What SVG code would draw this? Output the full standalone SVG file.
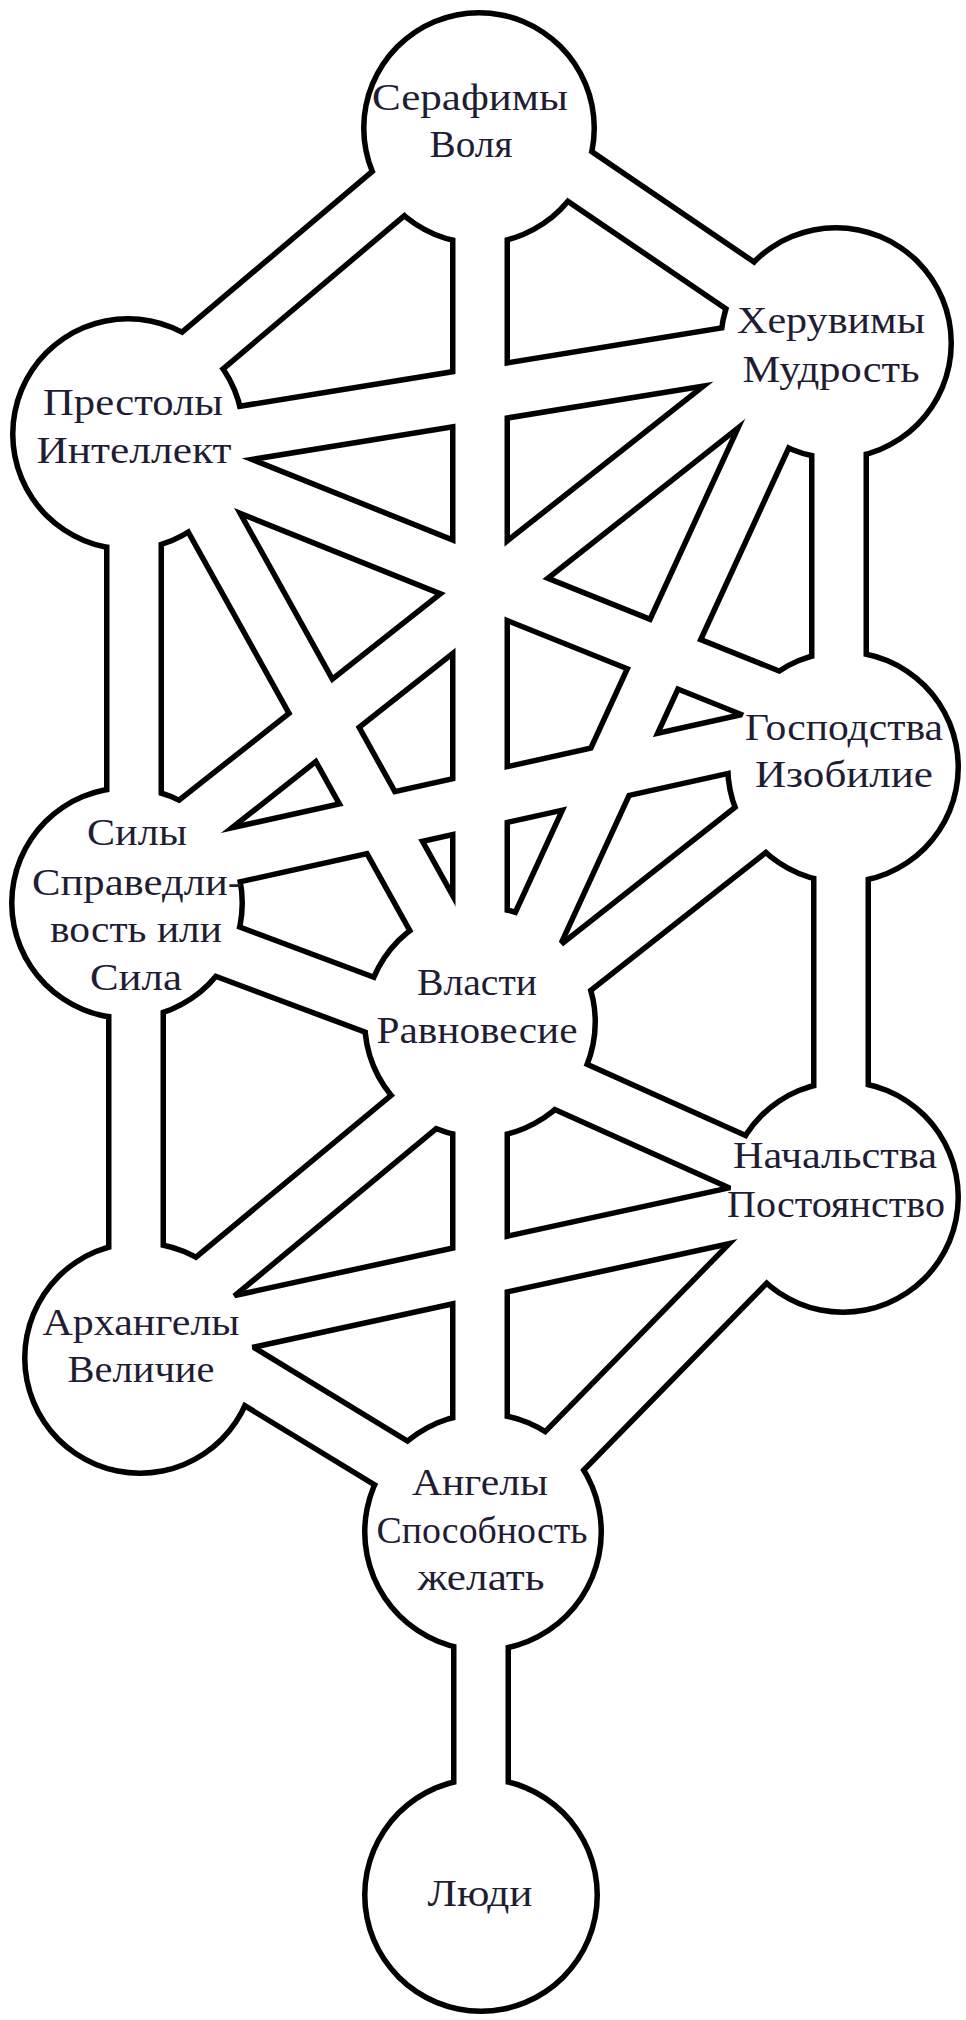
<svg xmlns="http://www.w3.org/2000/svg" width="966" height="2020" viewBox="0 0 966 2020">
<style>
.ring{fill:#000}
.disc{fill:#fff}
.o{stroke:#000;stroke-width:60;fill:none;stroke-linecap:butt}
.f{stroke:#fff;stroke-width:49;fill:none;stroke-linecap:butt}
.lbl{font-family:"Liberation Serif","DejaVu Serif",serif;font-size:38px;fill:#1f1d33;text-anchor:middle}
</style>
<defs>
<path id="e1" d="M118,422 L473,122"/>
<path id="e2" d="M488,114 L832,348"/>
<path id="e3" d="M480,128 L480,1022"/>
<path id="e4" d="M128,452 L836,337"/>
<path id="e5" d="M128,439 L843,726"/>
<path id="e6" d="M127,876 L836,316"/>
<path id="e7" d="M156,418 L489,1017"/>
<path id="e8" d="M807,343 L495,1022"/>
<path id="e9" d="M134,434 L134,903"/>
<path id="e10" d="M839,343 L839,767"/>
<path id="e11" d="M127,879 L843,720"/>
<path id="e12" d="M127,914 L480,1046"/>
<path id="e13" d="M843,757 L480,1043"/>
<path id="e14" d="M136,903 L136,1358"/>
<path id="e15" d="M841,767 L841,1197"/>
<path id="e16" d="M140,1339 L480,1057"/>
<path id="e17" d="M480,1046 L843,1209"/>
<path id="e18" d="M140,1344 L843,1191"/>
<path id="e19" d="M480,1022 L480,1532"/>
<path id="e20" d="M140,1310 L483,1519"/>
<path id="e21" d="M813,1197 L485,1532"/>
<path id="e22" d="M481,1532 L481,1895"/>
</defs>
<rect x="0" y="0" width="966" height="2020" fill="#fff"/>
<g id="node-rings">
<circle class="ring" cx="479" cy="128" r="118"/>
<circle class="ring" cx="836" cy="343" r="118"/>
<circle class="ring" cx="128" cy="434" r="118"/>
<circle class="ring" cx="843" cy="767" r="118"/>
<circle class="ring" cx="127" cy="903" r="118"/>
<circle class="ring" cx="480" cy="1022" r="118"/>
<circle class="ring" cx="843" cy="1197" r="118"/>
<circle class="ring" cx="140" cy="1358" r="118"/>
<circle class="ring" cx="483" cy="1532" r="121"/>
<circle class="ring" cx="481" cy="1895" r="119"/>
</g>
<g id="connectors">
<g class="o">
<use href="#e1"/><use href="#e2"/><use href="#e3"/><use href="#e4"/><use href="#e5"/><use href="#e6"/><use href="#e7"/><use href="#e8"/><use href="#e9"/><use href="#e10"/><use href="#e11"/><use href="#e12"/><use href="#e13"/><use href="#e14"/><use href="#e15"/><use href="#e16"/><use href="#e17"/><use href="#e18"/><use href="#e19"/><use href="#e20"/><use href="#e21"/><use href="#e22"/>
</g>
<g class="f">
<use href="#e1"/><use href="#e2"/><use href="#e3"/><use href="#e4"/><use href="#e5"/><use href="#e6"/><use href="#e7"/><use href="#e8"/><use href="#e9"/><use href="#e10"/><use href="#e11"/><use href="#e12"/><use href="#e13"/><use href="#e14"/><use href="#e15"/><use href="#e16"/><use href="#e17"/><use href="#e18"/><use href="#e19"/><use href="#e20"/><use href="#e21"/><use href="#e22"/>
</g>
</g>
<g id="node-serafimy">
<circle class="disc" cx="479" cy="128" r="112.5"/>
<text class="lbl" x="470" y="110" textLength="196" lengthAdjust="spacingAndGlyphs">Серафимы</text>
<text class="lbl" x="471" y="157" textLength="83" lengthAdjust="spacingAndGlyphs">Воля</text>
</g>
<g id="node-heruvimy">
<circle class="disc" cx="836" cy="343" r="112.5"/>
<text class="lbl" x="831" y="333" textLength="188" lengthAdjust="spacingAndGlyphs">Херувимы</text>
<text class="lbl" x="831" y="382" textLength="177" lengthAdjust="spacingAndGlyphs">Мудрость</text>
</g>
<g id="node-prestoly">
<circle class="disc" cx="128" cy="434" r="112.5"/>
<text class="lbl" x="133" y="415" textLength="180" lengthAdjust="spacingAndGlyphs">Престолы</text>
<text class="lbl" x="134" y="463" textLength="195" lengthAdjust="spacingAndGlyphs">Интеллект</text>
</g>
<g id="node-gospodstva">
<circle class="disc" cx="843" cy="767" r="112.5"/>
<text class="lbl" x="844" y="740" textLength="198" lengthAdjust="spacingAndGlyphs">Господства</text>
<text class="lbl" x="844" y="787" textLength="178" lengthAdjust="spacingAndGlyphs">Изобилие</text>
</g>
<g id="node-sily">
<circle class="disc" cx="127" cy="903" r="112.5"/>
<text class="lbl" x="137" y="845" textLength="100" lengthAdjust="spacingAndGlyphs">Силы</text>
<text class="lbl" x="137" y="895" textLength="210" lengthAdjust="spacingAndGlyphs">Справедли-</text>
<text class="lbl" x="136" y="942" textLength="172" lengthAdjust="spacingAndGlyphs">вость или</text>
<text class="lbl" x="136" y="990" textLength="92" lengthAdjust="spacingAndGlyphs">Сила</text>
</g>
<g id="node-vlasti">
<circle class="disc" cx="480" cy="1022" r="112.5"/>
<text class="lbl" x="477" y="995" textLength="120" lengthAdjust="spacingAndGlyphs">Власти</text>
<text class="lbl" x="477" y="1043" textLength="201" lengthAdjust="spacingAndGlyphs">Равновесие</text>
</g>
<g id="node-nachalstva">
<circle class="disc" cx="843" cy="1197" r="112.5"/>
<text class="lbl" x="835" y="1168" textLength="204" lengthAdjust="spacingAndGlyphs">Начальства</text>
<text class="lbl" x="836" y="1217" textLength="218" lengthAdjust="spacingAndGlyphs">Постоянство</text>
</g>
<g id="node-arhangely">
<circle class="disc" cx="140" cy="1358" r="112.5"/>
<text class="lbl" x="141" y="1335" textLength="197" lengthAdjust="spacingAndGlyphs">Архангелы</text>
<text class="lbl" x="141" y="1382" textLength="147" lengthAdjust="spacingAndGlyphs">Величие</text>
</g>
<g id="node-angely">
<circle class="disc" cx="483" cy="1532" r="115.5"/>
<text class="lbl" x="480" y="1495" textLength="136" lengthAdjust="spacingAndGlyphs">Ангелы</text>
<text class="lbl" x="482" y="1543" textLength="211" lengthAdjust="spacingAndGlyphs">Способность</text>
<text class="lbl" x="481" y="1590" textLength="127" lengthAdjust="spacingAndGlyphs">желать</text>
</g>
<g id="node-lyudi">
<circle class="disc" cx="481" cy="1895" r="113.5"/>
<text class="lbl" x="480" y="1906" textLength="105" lengthAdjust="spacingAndGlyphs">Люди</text>
</g>
</svg>
